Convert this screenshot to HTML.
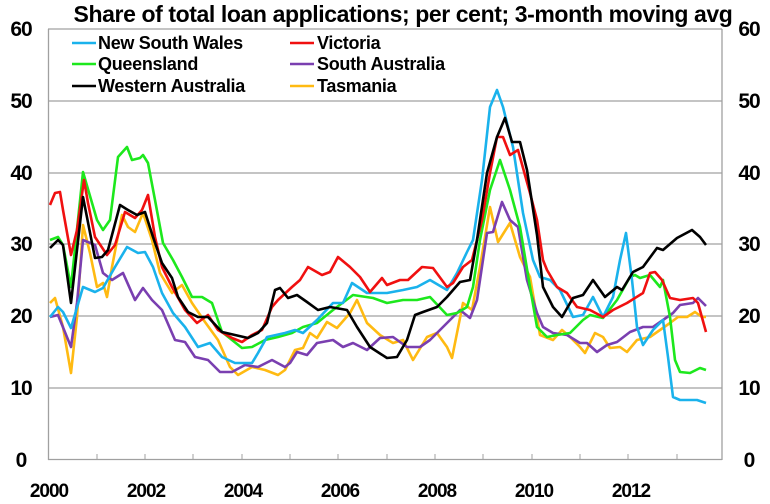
<!DOCTYPE html>
<html><head><meta charset="utf-8"><style>
body{margin:0;background:#fff}
svg text{font-family:"Liberation Sans",Arial,sans-serif}
</style></head><body>
<svg width="770" height="499" viewBox="0 0 770 499" xmlns="http://www.w3.org/2000/svg">
<rect width="770" height="499" fill="#fff"/>
<g stroke="#a0a0a0" stroke-width="1.3" fill="none">
<line x1="48" y1="29" x2="722" y2="29"/>
<line x1="48" y1="101" x2="722" y2="101"/>
<line x1="48" y1="173" x2="722" y2="173"/>
<line x1="48" y1="244" x2="722" y2="244"/>
<line x1="48" y1="316" x2="722" y2="316"/>
<line x1="48" y1="388" x2="722" y2="388"/>
<line x1="48" y1="459.5" x2="722" y2="459.5"/>
<line x1="48.5" y1="29" x2="48.5" y2="460"/>
<line x1="722" y1="29" x2="722" y2="460"/>
<g stroke-width="1">
<line x1="97" y1="454" x2="97" y2="460"/><line x1="145" y1="454" x2="145" y2="460"/><line x1="193" y1="454" x2="193" y2="460"/><line x1="242" y1="454" x2="242" y2="460"/><line x1="290" y1="454" x2="290" y2="460"/><line x1="338" y1="454" x2="338" y2="460"/><line x1="387" y1="454" x2="387" y2="460"/><line x1="435" y1="454" x2="435" y2="460"/><line x1="483" y1="454" x2="483" y2="460"/><line x1="532" y1="454" x2="532" y2="460"/><line x1="580" y1="454" x2="580" y2="460"/><line x1="628" y1="454" x2="628" y2="460"/><line x1="677" y1="454" x2="677" y2="460"/>
</g></g>
<g font-size="21" font-weight="bold" fill="#000" letter-spacing="-1">
<text x="21" y="36" text-anchor="middle">60</text><text x="21" y="108" text-anchor="middle">50</text><text x="21" y="180" text-anchor="middle">40</text><text x="21" y="251" text-anchor="middle">30</text><text x="21" y="323" text-anchor="middle">20</text><text x="21" y="395" text-anchor="middle">10</text><text x="21" y="467" text-anchor="middle">0</text>
<text x="749" y="36" text-anchor="middle">60</text><text x="749" y="108" text-anchor="middle">50</text><text x="749" y="180" text-anchor="middle">40</text><text x="749" y="251" text-anchor="middle">30</text><text x="749" y="323" text-anchor="middle">20</text><text x="749" y="395" text-anchor="middle">10</text><text x="749" y="467" text-anchor="middle">0</text>
</g>
<g font-size="19" font-weight="bold" fill="#000" letter-spacing="-1" text-anchor="middle">
<text x="49" y="497">2000</text><text x="146" y="497">2002</text><text x="243" y="497">2004</text><text x="340" y="497">2006</text><text x="437" y="497">2008</text><text x="534" y="497">2010</text><text x="631" y="497">2012</text>
</g>
<text x="403" y="22" font-size="23" font-weight="bold" text-anchor="middle" letter-spacing="-0.4">Share of total loan applications; per cent; 3-month moving avg</text>
<g font-size="18" font-weight="bold" letter-spacing="-0.3">
<line x1="72" y1="43" x2="96" y2="43" stroke="#1ab2ec" stroke-width="2.5"/><text x="98" y="49">New South Wales</text>
<line x1="72" y1="64" x2="96" y2="64" stroke="#1de81d" stroke-width="2.5"/><text x="98" y="70">Queensland</text>
<line x1="72" y1="86" x2="96" y2="86" stroke="#000" stroke-width="2.5"/><text x="98" y="92">Western Australia</text>
<line x1="290" y1="43" x2="314" y2="43" stroke="#f01010" stroke-width="2.5"/><text x="317" y="49">Victoria</text>
<line x1="290" y1="64" x2="314" y2="64" stroke="#7a3fb0" stroke-width="2.5"/><text x="317" y="70">South Australia</text>
<line x1="290" y1="86" x2="314" y2="86" stroke="#ffba12" stroke-width="2.5"/><text x="317" y="92">Tasmania</text>
</g>
<g fill="none" stroke-width="2.6" stroke-linejoin="round">
<polyline stroke="#ffba12" points="50,303 55,298 63,327 71,373 77,317 83,225 90,253 97,287 103,283 107,297 112,267 122,215 128,227 135,232 143,213 152,240 160,273 172,293 182,285 192,303 205,322 218,340 230,367 238,375 252,367 265,370 278,375 285,370 295,350 303,348 310,333 317,338 327,322 337,328 350,313 357,300 367,323 380,335 393,343 403,340 413,360 427,337 437,333 447,347 452,358 463,303 472,310 480,267 490,207 498,242 510,223 520,257 530,277 540,335 553,340 562,330 570,337 580,347 585,353 595,333 603,337 610,348 620,347 627,352 637,340 650,337 660,330 670,323 678,317 687,317 695,312 702,317 706,317"/>
<polyline stroke="#7a3fb0" points="50,317 58,315 71,347 77,303 83,240 95,245 103,273 112,280 123,273 135,300 143,288 152,300 162,310 175,340 185,342 195,357 208,360 220,372 232,372 245,365 258,367 272,360 285,367 290,363 297,352 307,355 317,343 333,340 343,347 353,343 367,350 380,338 393,337 407,347 420,347 430,340 443,327 453,317 460,310 470,318 477,300 487,233 493,232 502,202 510,220 518,227 527,280 537,313 543,327 553,333 567,335 580,343 587,343 597,352 607,345 617,342 630,332 643,327 653,327 663,320 673,313 680,305 693,303 698,298 706,306"/>
<polyline stroke="#1de81d" points="50,240 58,237 63,245 71,287 83,172 97,220 103,230 110,220 118,157 127,147 132,160 140,158 143,155 148,163 155,200 163,243 173,260 182,277 192,297 202,297 212,303 222,332 232,340 242,348 252,347 265,340 278,337 292,333 303,327 317,323 333,310 353,295 373,298 387,303 403,300 417,300 430,297 447,315 457,313 467,307 473,287 480,240 490,190 500,160 510,190 520,227 530,287 537,327 547,337 557,335 570,333 583,320 590,315 603,318 617,300 630,277 635,275 640,278 650,275 660,287 663,280 670,317 675,360 680,372 690,373 700,368 706,370"/>
<polyline stroke="#1ab2ec" points="50,317 58,307 63,312 71,328 83,287 95,292 103,288 115,267 127,247 138,253 145,252 153,267 162,293 173,313 185,327 198,347 210,343 222,357 235,363 252,363 258,353 267,337 285,333 295,330 303,333 317,320 333,303 343,303 352,283 367,293 387,293 403,290 417,287 430,280 447,290 457,273 467,252 473,240 482,180 490,107 497,90 503,107 513,147 523,213 533,260 540,277 550,280 560,290 573,317 583,315 593,297 603,317 613,297 620,260 626,233 632,280 637,327 643,345 653,330 663,320 668,357 673,397 680,400 697,400 706,403"/>
<polyline stroke="#f01010" points="50,205 55,193 60,192 63,210 71,255 77,230 84,180 88,203 95,237 107,255 115,245 125,212 135,218 142,210 148,195 155,237 162,267 172,287 185,310 197,323 208,315 218,330 232,338 242,342 252,335 262,330 272,307 278,300 292,287 300,280 308,267 322,275 330,272 338,257 350,267 360,277 370,292 382,278 387,285 400,280 408,280 422,267 433,268 447,287 453,283 463,267 472,260 482,220 490,173 497,137 503,137 510,155 518,150 530,193 537,220 543,260 547,270 557,287 567,293 577,307 590,310 603,317 613,310 627,303 643,293 650,273 655,272 662,280 670,298 680,300 693,298 698,303 706,332"/>
<polyline stroke="#000" points="50,248 58,240 63,245 71,303 83,197 95,258 102,257 108,250 120,205 128,210 137,215 145,212 153,237 162,263 172,278 178,297 188,312 198,317 208,317 222,332 235,335 248,338 258,333 267,323 275,290 280,288 288,298 297,295 307,302 318,310 330,307 347,310 357,327 370,347 387,358 397,357 407,340 415,315 423,312 437,307 447,297 460,282 470,280 477,240 487,173 497,137 505,118 512,142 520,142 527,170 537,235 543,287 553,307 562,317 573,298 583,295 593,280 605,297 617,287 622,290 633,272 643,267 657,248 663,250 677,238 692,230 700,237 706,245"/>
</g>
</svg>
</body></html>
